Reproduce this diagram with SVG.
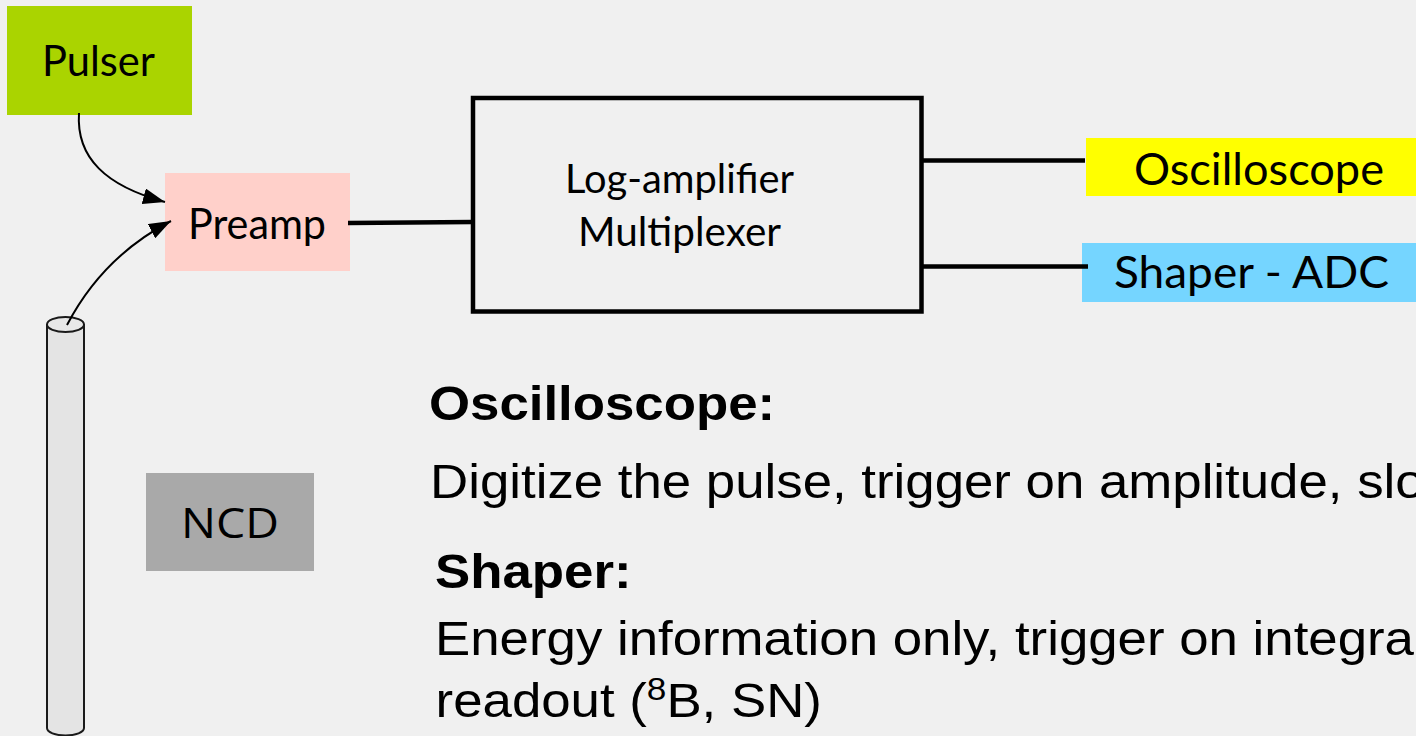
<svg xmlns="http://www.w3.org/2000/svg" width="1416" height="736" viewBox="0 0 1416 736">
<defs>
<style>
.lbl{font-family:Lato,"Open Sans","Liberation Sans",sans-serif;fill:#000}
.body{font-family:"Liberation Sans",Arial,sans-serif;fill:#000;font-size:48px}
.wire{stroke:#000;stroke-width:4.5;fill:none}
.curve{stroke:#000;stroke-width:2;fill:none}
</style>
<marker id="ah" markerUnits="userSpaceOnUse" markerWidth="24" markerHeight="16" refX="22" refY="8" orient="auto">
<path d="M0,0 L22,8 L0,16 z" fill="#000"/>
</marker>
</defs>
<rect x="0" y="0" width="1416" height="736" fill="#f0f0f0"/>

<g id="pulser">
<rect x="7" y="6" width="185" height="109" fill="#aad400"/>
<text class="lbl" x="42" y="76" font-size="42" textLength="113" lengthAdjust="spacingAndGlyphs">Pulser</text>
</g>

<g id="preamp">
<rect x="165" y="173" width="185" height="98" fill="#ffd0ca"/>
<text class="lbl" x="188" y="239" font-size="42" textLength="138" lengthAdjust="spacingAndGlyphs">Preamp</text>
</g>

<g id="logamp">
<rect x="473" y="98" width="448.5" height="213.5" fill="none" stroke="#000" stroke-width="4.5"/>
<text class="lbl" x="565" y="193" font-size="40" textLength="229" lengthAdjust="spacingAndGlyphs">Log-amplifier</text>
<text class="lbl" x="578" y="246" font-size="40" textLength="203" lengthAdjust="spacingAndGlyphs">Multiplexer</text>
</g>

<g id="oscilloscope">
<rect x="1086" y="138" width="330" height="58" fill="#ffff00"/>
<text class="lbl" x="1134" y="185" font-size="44" textLength="250" lengthAdjust="spacingAndGlyphs">Oscilloscope</text>
</g>

<g id="shaper">
<rect x="1082" y="243" width="334" height="59" fill="#75d5ff"/>
<text class="lbl" x="1114" y="288" font-size="44" textLength="275" lengthAdjust="spacingAndGlyphs">Shaper - ADC</text>
</g>

<g id="ncd">
<rect x="146" y="473" width="168" height="98" fill="#a9a9a9"/>
<text x="181" y="538" font-family="'Open Sans','Liberation Sans',sans-serif" font-size="42" textLength="98" lengthAdjust="spacingAndGlyphs">NCD</text>
</g>

<g id="detector">
<path d="M47,324 L47,728 A18.5,7.5 0 0 0 84,728 L84,324" fill="#e4e4e4" stroke="#1a1a1a" stroke-width="2"/>
<ellipse cx="65.5" cy="324.5" rx="18.5" ry="7.5" fill="#e8e8e8" stroke="#1a1a1a" stroke-width="2"/>
</g>

<g id="connectors">
<line class="wire" x1="348" y1="223" x2="473" y2="222"/>
<line class="wire" x1="921" y1="160.5" x2="1085" y2="160.5"/>
<line class="wire" x1="921" y1="266.5" x2="1088" y2="266.5"/>
<path class="curve" d="M79,113 C76,158 106,186 165,202" marker-end="url(#ah)"/>
<path class="curve" d="M67,325 C90,281 125,245 171,221" marker-end="url(#ah)"/>
</g>

<g id="notes" transform="scale(1.1 1)">
<text class="body" x="390" y="420" font-weight="bold">Oscilloscope:</text>
<text class="body" x="391" y="498">Digitize the pulse, trigger on amplitude, slo</text>
<text class="body" x="395.5" y="588" font-weight="bold">Shaper:</text>
<text class="body" x="395.5" y="655">Energy information only, trigger on integra</text>
<text class="body" x="396" y="717">readout (<tspan font-size="32" dy="-17">8</tspan><tspan dy="17">B, SN)</tspan></text>
</g>
</svg>
